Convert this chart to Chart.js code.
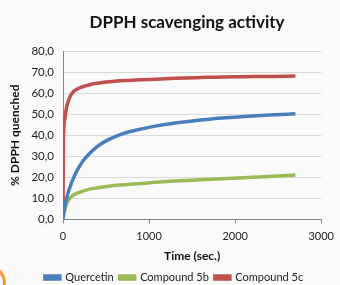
<!DOCTYPE html>
<html lang="en">
<head>
    <meta charset="UTF-8">
    <title>DPPH scavenging activity</title>
    <style>
        html, body {
            margin: 0;
            padding: 0;
            background-color: #fafafa;
            overflow: hidden;
        }
        #wrap {
            position: relative;
            width: 340px;
            height: 285px;
        }
        /* bit of the slide decoration in the corner */
        .corner {
            position: absolute;
            left: -30px;
            top: 265px;
            width: 30px;
            height: 30px;
            border: 3px solid #f29a38;
            border-radius: 50%;
        }
    </style>
</head>
<body>
    <div id="wrap">
        <canvas id="chart" width="340" height="285"></canvas>
        <div class="corner"></div>
    </div>
    <script src="https://cdn.jsdelivr.net/npm/chart.js@4.4.1/dist/chart.umd.min.js"></script>
    <script>
        // time in seconds
        var times = [0, 5, 20, 40, 60, 90, 120, 160, 200, 250, 320, 400, 500, 620, 750, 900, 1070, 1300, 1600, 1850, 2100, 2400, 2700];
        var quercetin = [0, 2, 6, 9.8, 12.8, 16.4, 19.5, 23, 25.8, 28.7, 31.8, 34.7, 37.3, 39.6, 41.4, 42.9, 44.3, 45.8, 47.2, 48.2, 48.9, 49.6, 50.2];
        var compound5b = [0, 2, 4.5, 7.3, 8.9, 10.5, 11.6, 12.4, 13, 13.7, 14.5, 15, 15.6, 16.2, 16.6, 17, 17.6, 18.2, 18.8, 19.3, 19.8, 20.4, 21.1];
        var compound5c = [0, 38, 47.5, 53, 56, 59, 60.6, 61.8, 62.6, 63.3, 64.1, 64.7, 65.3, 65.7, 66, 66.3, 66.6, 67, 67.4, 67.7, 67.8, 67.9, 68.1];
        var seriesNames = ['Quercetin', 'Compound 5b', 'Compound 5c'];
        var seriesColors = ['#4a7ebb', '#9bbb59', '#c0504d'];
        var xTicks = [0, 1000, 2000, 3000];
        var chartTitle = 'DPPH scavenging activity';

        function toPoints(vals) {
            return vals.map(function (v, i) { return { x: times[i], y: v }; });
        }

        var allSeries = [quercetin, compound5b, compound5c];
        var datasets = allSeries.map(function (vals, i) {
            return {
                label: seriesNames[i],
                data: toPoints(vals),
                borderColor: seriesColors[i],
                backgroundColor: seriesColors[i],
                borderWidth: 3.5,
                pointRadius: 0,
                showLine: true,
                cubicInterpolationMode: 'monotone'
            };
        });

        var fontFam = 'Lato, "Open Sans", sans-serif';

        // legend needs wide gaps between items but not that much height
        var legendTrim = {
            id: 'legendTrim',
            beforeInit: function (chart) {
                var lg = chart.legend;
                var origFit = lg.fit;
                lg.fit = function () {
                    origFit.call(this);
                    this.height = 19;
                };
            }
        };

        // title sits a little left of the plot centre, like the original
        var titleDraw = {
            id: 'titleDraw',
            afterDraw: function (chart) {
                var c = chart.ctx;
                c.save();
                c.font = 'bold 17px ' + fontFam;
                c.fillStyle = '#111';
                c.textAlign = 'center';
                c.textBaseline = 'middle';
                c.fillText(chartTitle, 187, 23);
                c.restore();
            }
        };

        var ctx = document.getElementById('chart').getContext('2d');
        new Chart(ctx, {
            type: 'scatter',
            data: { datasets: datasets },
            plugins: [legendTrim, titleDraw],
            options: {
                responsive: false,
                animation: false,
                layout: { padding: { left: 8, right: 0, top: 51, bottom: 0 } },
                scales: {
                    x: {
                        type: 'linear',
                        min: 0,
                        max: 3000,
                        afterBuildTicks: function (axis) {
                            axis.ticks = xTicks.map(function (v) { return { value: v }; });
                        },
                        grid: { drawOnChartArea: false, drawTicks: true, tickLength: 4, color: '#868686' },
                        border: { color: '#868686' },
                        ticks: {
                            color: '#222',
                            font: { family: fontFam, size: 11 },
                            padding: 6,
                            maxRotation: 0,
                            callback: function (v) { return String(v); }
                        },
                        title: { display: true, text: 'Time (sec.)', color: '#111', font: { family: fontFam, size: 12, weight: 'bold' }, padding: { top: 0, bottom: 3 } }
                    },
                    y: {
                        min: 0,
                        max: 80,
                        ticks: {
                            stepSize: 10,
                            color: '#222',
                            font: { family: fontFam, size: 11.5 },
                            padding: 9,
                            callback: function (v) { return v.toFixed(1).replace('.', ','); }
                        },
                        grid: { color: '#d9d9d9', drawTicks: false, lineWidth: 1 },
                        border: { color: '#868686' },
                        title: { display: true, text: '% DPPH quenched', color: '#111', font: { family: fontFam, size: 12, weight: 'bold' }, padding: { top: 0, bottom: 0 } }
                    }
                },
                plugins: {
                    title: { display: false },
                    legend: {
                        position: 'bottom',
                        labels: {
                            color: '#222',
                            font: { family: fontFam, size: 11 },
                            boxWidth: 15,
                            boxHeight: 3,
                            padding: 6
                        }
                    },
                    tooltip: { enabled: false }
                }
            }
        });
    </script>
</body>
</html>
